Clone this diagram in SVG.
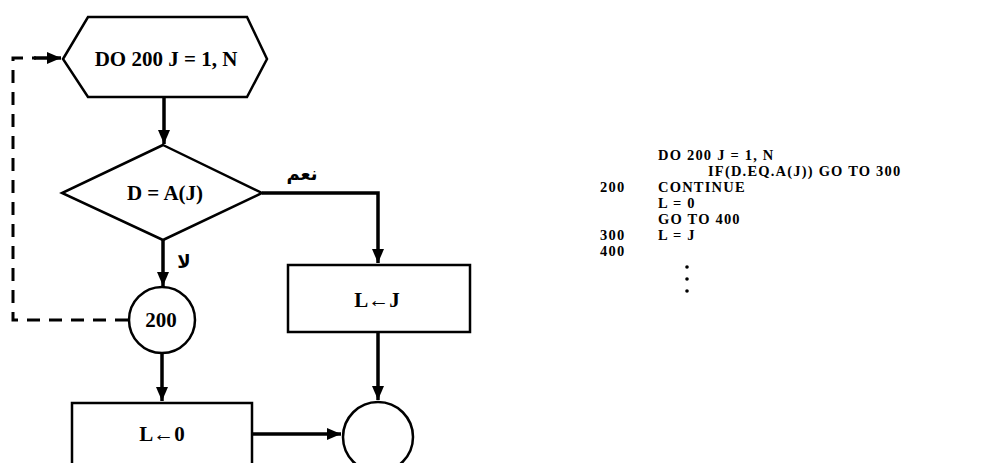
<svg xmlns="http://www.w3.org/2000/svg" width="1006" height="463" viewBox="0 0 1006 463">
<style>
.shape{fill:#fff;stroke:#000;stroke-width:2.5}
.conn{fill:none;stroke:#000;stroke-width:3.5}
.dash{fill:none;stroke:#000;stroke-width:3;stroke-dasharray:13 9}
.t{font-family:"Liberation Serif","Times New Roman",serif;font-weight:bold;font-size:21px;fill:#000}
.c{font-family:"Liberation Serif","Times New Roman",serif;font-weight:bold;font-size:14.5px;letter-spacing:1.2px;fill:#000}
.ar{font-family:"DejaVu Sans",sans-serif;font-weight:bold;font-size:18px;fill:#000}
</style>
<defs>
<marker id="ah" markerUnits="userSpaceOnUse" markerWidth="16" markerHeight="16" refX="14" refY="8" orient="auto">
<path d="M0,2 L14,8 L0,14 Z" fill="#000"/>
</marker>
</defs>
<rect width="1006" height="463" fill="#fff"/>
<g id="connectors">
<path class="conn" d="M164,97 V144" marker-end="url(#ah)"/>
<path class="conn" d="M262,193 H378 V263" marker-end="url(#ah)"/>
<path class="conn" d="M163,240 V286" marker-end="url(#ah)"/>
<path class="dash" d="M128,320 H13 V58 H36"/>
<path class="conn" d="M34,58 H61" marker-end="url(#ah)"/>
<path class="conn" d="M162,353 V401" marker-end="url(#ah)"/>
<path class="conn" d="M378,332 V400" marker-end="url(#ah)"/>
<path class="conn" d="M253,434 H341" marker-end="url(#ah)"/>
<text class="ar" x="302" y="180" text-anchor="middle">نعم</text>
<text class="ar" x="184" y="268" text-anchor="middle">لا</text>
</g>
<g id="node-do">
<polygon class="shape" points="63,59 88,17 247,17 267,59 247,97 88,97"/>
<text class="t" x="166" y="66" text-anchor="middle">DO 200 J = 1, N</text>
</g>
<g id="node-if">
<polygon class="shape" points="163,145 262,193 163,240 62,193"/>
<text class="t" x="165" y="200" text-anchor="middle">D = A(J)</text>
</g>
<g id="node-200">
<circle class="shape" cx="162" cy="320" r="33"/>
<text class="t" x="161" y="327" text-anchor="middle">200</text>
</g>
<g id="node-lj">
<rect class="shape" x="288" y="265" width="182" height="67"/>
<text class="t" x="377" y="307" text-anchor="middle">L←J</text>
</g>
<g id="node-l0">
<rect class="shape" x="72" y="403" width="180" height="70"/>
<text class="t" x="162" y="441" text-anchor="middle">L←0</text>
</g>
<g id="node-end">
<circle class="shape" cx="378" cy="437" r="35"/>
</g>
<g id="code">
<text class="c" x="658" y="160">DO 200 J = 1, N</text>
<text class="c" x="708" y="176">IF(D.EQ.A(J)) GO TO 300</text>
<text class="c" x="600" y="192">200</text>
<text class="c" x="658" y="192">CONTINUE</text>
<text class="c" x="658" y="208">L = 0</text>
<text class="c" x="658" y="224">GO TO 400</text>
<text class="c" x="600" y="240">300</text>
<text class="c" x="658" y="240">L = J</text>
<text class="c" x="600" y="256">400</text>
<circle cx="687" cy="267" r="1.8"/>
<circle cx="687" cy="279" r="1.8"/>
<circle cx="687" cy="291" r="1.8"/>
</g>
</svg>
